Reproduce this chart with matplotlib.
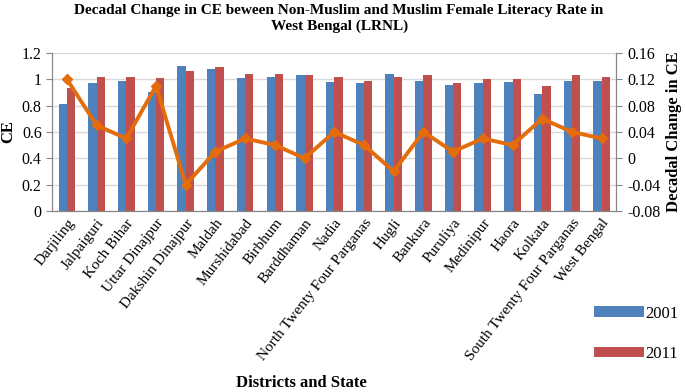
import matplotlib.pyplot as plt
import numpy as np

districts = ["Darjiling", "Jalpaiguri", "Koch Bihar", "Uttar Dinajpur", "Dakshin Dinajpur",
             "Maldah", "Murshidabad", "Birbhum", "Barddhaman", "Nadia",
             "North Twenty Four Parganas", "Hugli", "Bankura", "Puruliya", "Medinipur",
             "Haora", "Kolkata", "South Twenty Four Parganas", "West Bengal"]
ce_2001 = [0.81, 0.97, 0.99, 0.90, 1.10, 1.08, 1.01, 1.02, 1.03, 0.98,
           0.97, 1.04, 0.99, 0.96, 0.97, 0.98, 0.89, 0.99, 0.99]
ce_2011 = [0.93, 1.02, 1.02, 1.01, 1.06, 1.09, 1.04, 1.04, 1.03, 1.02,
           0.99, 1.02, 1.03, 0.97, 1.00, 1.00, 0.95, 1.03, 1.02]
decadal_change = [0.12, 0.05, 0.03, 0.11, -0.04, 0.01, 0.03, 0.02, 0.00, 0.04,
                  0.02, -0.02, 0.04, 0.01, 0.03, 0.02, 0.06, 0.04, 0.03]

plt.rcParams['font.family'] = ['Liberation Serif', 'DejaVu Serif']

fig = plt.figure(figsize=(6.85, 3.92), dpi=100)
ax = fig.add_axes([0.076, 0.462, 0.824, 0.403])
ax2 = ax.twinx()

x = np.arange(len(districts))
w = 0.28
ax.bar(x - w / 2, ce_2001, w, color='#4F81BD', label='2001', zorder=2)
ax.bar(x + w / 2, ce_2011, w, color='#C0504D', label='2011', zorder=2)
ax2.plot(x, decadal_change, color='#E46C0A', lw=2.8, marker='D', ms=5, zorder=3)

ax.set_xlim(-0.5, len(districts) - 0.5)
ax.set_ylim(0, 1.2)
ax.set_yticks(np.arange(0, 1.21, 0.2))
ax.set_yticklabels(['0', '0.2', '0.4', '0.6', '0.8', '1', '1.2'])
ax2.set_ylim(-0.08, 0.16)
ax2.set_yticks(np.arange(-0.08, 0.161, 0.04))
ax2.set_yticklabels(['-0.08', '-0.04', '0', '0.04', '0.08', '0.12', '0.16'])

ax.yaxis.grid(True, color='#D9D9D9', lw=1, zorder=0)
ax.set_axisbelow(True)
ax.set_xticks(x)
ax.set_xticklabels(districts, rotation=52, ha='right', rotation_mode='anchor', fontsize=11)
ax.tick_params(axis='x', length=0, pad=4)
ax.tick_params(axis='y', labelsize=11.5, length=4, color='#868686')
ax2.tick_params(axis='y', labelsize=11.5, length=4, color='#868686')

for a in (ax, ax2):
    a.spines['top'].set_visible(False)
    for s in ('left', 'right', 'bottom'):
        a.spines[s].set_color('#868686')

ax.set_ylabel('CE', fontsize=12, fontweight='bold', labelpad=4)
ax2.set_ylabel('Decadal Change in CE', fontsize=12, fontweight='bold', labelpad=4)
fig.text(0.44, 0.012, 'Districts and State', ha='center', fontsize=12, fontweight='bold')
fig.suptitle('Decadal Change in CE beween Non-Muslim and Muslim Female Literacy Rate in\nWest Bengal (LRNL)',
             x=0.495, y=0.99, fontsize=11, fontweight='bold', linespacing=1.3)

fig.legend(loc='lower right', bbox_to_anchor=(1.0, 0.06), frameon=False, fontsize=12,
           handlelength=3.0, handleheight=0.6, labelspacing=1.45, handletextpad=0.05,
           borderaxespad=0)

fig.savefig('out.png', dpi=100)
